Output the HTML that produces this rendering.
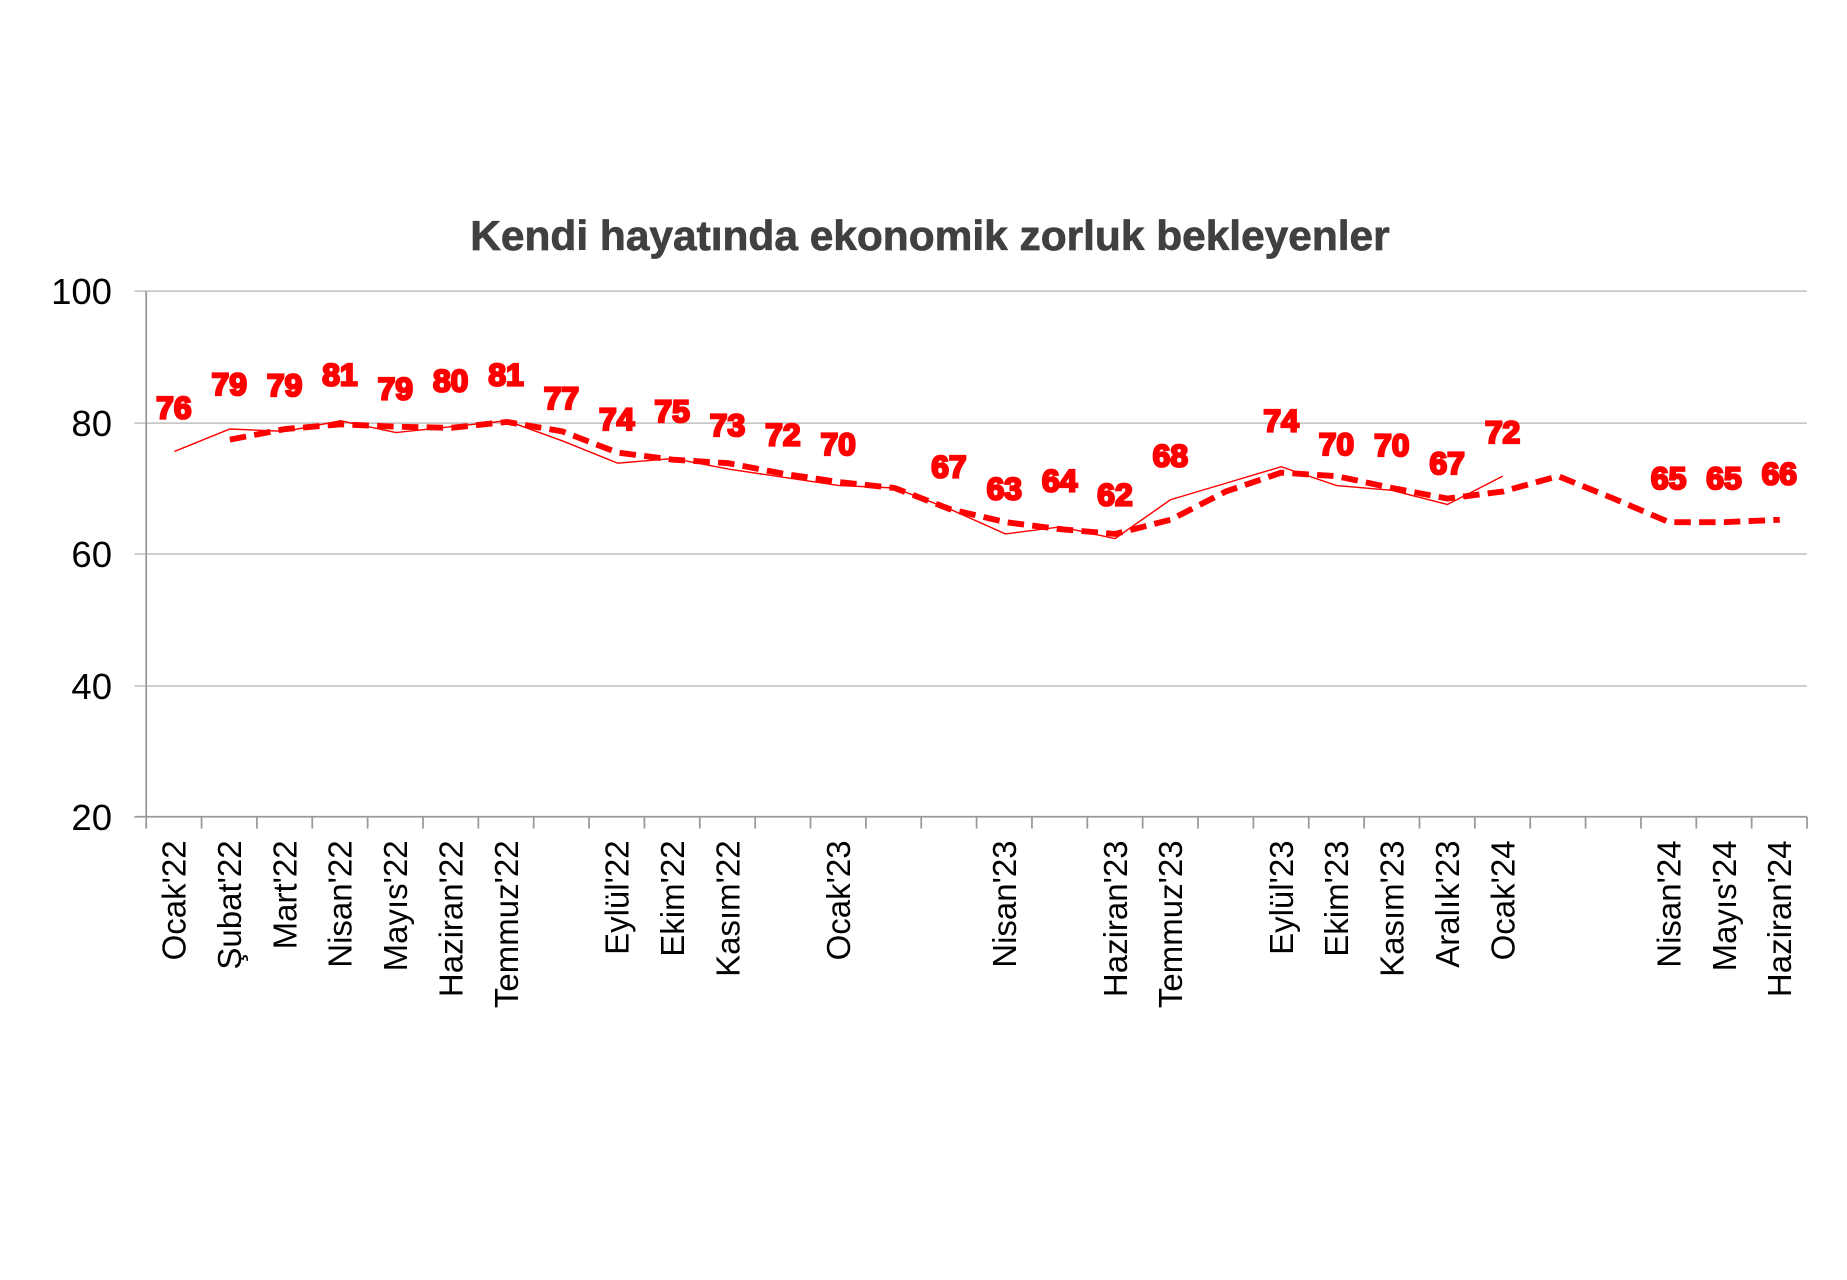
<!DOCTYPE html>
<html><head><meta charset="utf-8"><style>html,body{margin:0;padding:0;background:#fff}svg{display:block}</style></head>
<body>
<svg width="1847" height="1280" viewBox="0 0 1567 1086" xmlns="http://www.w3.org/2000/svg">
<rect width="1567" height="1086" fill="#fff"/>
<text x="789" y="212" text-anchor="middle" font-family="Liberation Sans Narrow, Liberation Sans, sans-serif" font-weight="bold" font-size="35" fill="#404040" stroke="#404040" stroke-width="0.6" textLength="780" lengthAdjust="spacingAndGlyphs">Kendi hayatında ekonomik zorluk bekleyenler</text>
<g stroke="#c8c8c8" stroke-width="1.5">
<line x1="114" y1="247" x2="1533" y2="247"/>
<line x1="114" y1="359" x2="1533" y2="359"/>
<line x1="114" y1="470" x2="1533" y2="470"/>
<line x1="114" y1="582" x2="1533" y2="582"/>
</g>
<g stroke="#999" stroke-width="1.5">
<line x1="124" y1="247" x2="124" y2="693"/>
<line x1="114" y1="693" x2="1533" y2="693"/>
</g>
<g id="ticks" stroke="#999" stroke-width="1.5"></g>
<g font-family="Liberation Sans, sans-serif" font-size="31" fill="#000" text-anchor="end">
<text x="95" y="258">100</text><text x="95" y="370">80</text><text x="95" y="481">60</text><text x="95" y="593">40</text><text x="95" y="704">20</text>
</g>
<g id="xl" font-family="Liberation Sans, sans-serif" font-size="28" fill="#000" text-anchor="end"></g>
<polyline fill="none" stroke="#ff0000" stroke-width="1.2" points="148,383 195,364 242,366 289,357 336,367 383,362 430,357 477,374 524,393 571,389 618,398 665,405 712,412 759,414 806,432 853,453 900,447 946,457 993,424 1040,410 1087,396 1134,412 1181,416 1228,428 1275,404"/>
<polyline fill="none" stroke="#ff0000" stroke-width="5" stroke-dasharray="14,7" points="195,373 242,364 289,360 336,362 383,363 430,358 477,366 524,384 571,390 618,393 665,402 712,409 759,414 806,432 853,443 900,449 946,453 993,441 1040,417 1087,401 1134,404 1181,414 1228,423 1275,417 1322,404 1369,423 1416,443 1463,443 1510,441"/>
<g id="dl" font-family="Liberation Sans, sans-serif" font-weight="bold" font-size="27" fill="#ff0000" stroke="#ff0000" stroke-width="2" text-anchor="middle"></g>
<script>
var ns="http://www.w3.org/2000/svg";
var t=document.getElementById("ticks");
for(var i=0;i<=30;i++){var x=124+46.97*i;var l=document.createElementNS(ns,"line");l.setAttribute("x1",x);l.setAttribute("x2",x);l.setAttribute("y1",693);l.setAttribute("y2",703);t.appendChild(l);}
var cats={0:"Ocak'22",1:"Şubat'22",2:"Mart'22",3:"Nisan'22",4:"Mayıs'22",5:"Haziran'22",6:"Temmuz'22",8:"Eylül'22",9:"Ekim'22",10:"Kasım'22",12:"Ocak'23",15:"Nisan'23",17:"Haziran'23",18:"Temmuz'23",20:"Eylül'23",21:"Ekim'23",22:"Kasım'23",23:"Aralık'23",24:"Ocak'24",27:"Nisan'24",28:"Mayıs'24",29:"Haziran'24"};
var xl=document.getElementById("xl");
for(var k in cats){var c=124+46.97*(+k+0.5);var e=document.createElementNS(ns,"text");e.setAttribute("transform","translate("+(c+10)+",713) rotate(-90)");e.textContent=cats[k];xl.appendChild(e);}
var d=[[0,"76",345],[1,"79",325],[2,"79",326],[3,"81",317],[4,"79",329],[5,"80",322],[6,"81",317],[7,"77",337],[8,"74",355],[9,"75",348],[10,"73",360],[11,"72",368],[12,"70",376],[14,"67",395],[15,"63",414],[16,"64",407],[17,"62",419],[18,"68",386],[20,"74",356],[21,"70",376],[22,"70",377],[23,"67",392],[24,"72",366],[27,"65",405],[28,"65",405],[29,"66",401]];
var dl=document.getElementById("dl");
d.forEach(function(p){var c=124+46.97*(p[0]+0.5);var e=document.createElementNS(ns,"text");e.setAttribute("x",c);e.setAttribute("y",p[2]+10);e.textContent=p[1];dl.appendChild(e);});
</script>
</svg>
</body></html>
